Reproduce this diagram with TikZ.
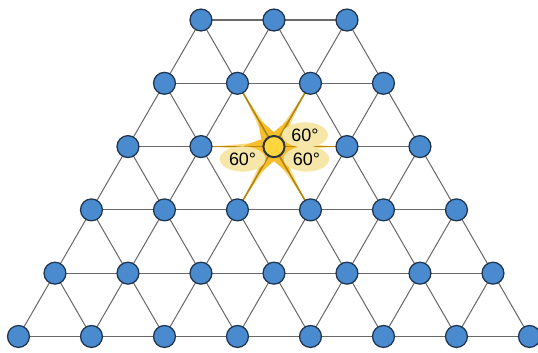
\documentclass[tikz,border=0pt]{standalone}
\usepackage{fontspec}
\setmainfont{Liberation Sans}
\usetikzlibrary{calc, shapes.geometric}
\definecolor{siteblue}{HTML}{4A8BD0}
\definecolor{siteline}{HTML}{1F3550}
\definecolor{bondgray}{HTML}{6A6A6A}
\definecolor{glowgold}{HTML}{F5BE2A}
\definecolor{raygold}{HTML}{B8860B}
\definecolor{centeryellow}{HTML}{FFD63D}
\definecolor{anglefill}{HTML}{F6E7A8}
\begin{document}
\begin{tikzpicture}[
    site/.style={circle, draw=siteline, line width=0.5pt, fill=siteblue, minimum size=0.3cm, inner sep=0pt},
    hub/.style={circle, draw=black!80, line width=0.5pt, fill=centeryellow, minimum size=0.28cm, inner sep=0pt},
    bond/.style={draw=bondgray, line width=0.4pt},
    ray/.style={draw=raygold, line width=0.6pt},
    anglelabel/.style={ellipse, fill=anglefill, inner sep=1pt, font=\fontsize{7}{8}\selectfont}
]
\useasboundingbox (0,0) rectangle (7.370,-4.822);

% lattice sites: row r has r+3 sites
\foreach \r in {0,...,5} {
  \pgfmathtruncatemacro{\last}{\r+2}
  \foreach \k in {0,...,\last} {
    \coordinate (p-\r-\k) at ({2.753-0.5*\r+\k}, {-(0.274+0.867*\r)});
  }
}

% glow around the centre site
\fill[glowgold, opacity=0.55]
  ($(p-2-2)+(0:0.85)$) -- ($(p-2-2)+(30:0.13)$) -- ($(p-2-2)+(60:0.85)$) -- ($(p-2-2)+(90:0.13)$)
  -- ($(p-2-2)+(120:0.85)$) -- ($(p-2-2)+(150:0.13)$) -- ($(p-2-2)+(180:0.85)$)
  -- ($(p-2-2)+(210:0.13)$) -- ($(p-2-2)+(240:0.85)$) -- ($(p-2-2)+(270:0.13)$)
  -- ($(p-2-2)+(300:0.85)$) -- ($(p-2-2)+(330:0.13)$) -- cycle;
\fill[glowgold]
  ($(p-2-2)+(0:0.45)$) -- ($(p-2-2)+(30:0.2)$) -- ($(p-2-2)+(60:0.45)$) -- ($(p-2-2)+(90:0.2)$)
  -- ($(p-2-2)+(120:0.45)$) -- ($(p-2-2)+(150:0.2)$) -- ($(p-2-2)+(180:0.45)$)
  -- ($(p-2-2)+(210:0.2)$) -- ($(p-2-2)+(240:0.45)$) -- ($(p-2-2)+(270:0.2)$)
  -- ($(p-2-2)+(300:0.45)$) -- ($(p-2-2)+(330:0.2)$) -- cycle;

% bonds
\foreach \r in {0,...,5} {
  \pgfmathtruncatemacro{\prev}{\r+2}
  \foreach \k in {1,...,\prev} {
    \pgfmathtruncatemacro{\j}{\k-1}
    \draw[bond] (p-\r-\j) -- (p-\r-\k);
  }
}
\foreach \r in {0,...,4} {
  \pgfmathtruncatemacro{\nxt}{\r+1}
  \pgfmathtruncatemacro{\last}{\r+2}
  \foreach \k in {0,...,\last} {
    \pgfmathtruncatemacro{\kk}{\k+1}
    \draw[bond] (p-\r-\k) -- (p-\nxt-\k);
    \draw[bond] (p-\r-\k) -- (p-\nxt-\kk);
  }
}

% highlighted bonds of the centre site
\foreach \a/\b in {1/1, 1/2, 2/1, 2/3, 3/2, 3/3}
  \draw[ray] (p-2-2) -- (p-\a-\b);

% sites
\foreach \r in {0,...,5} {
  \pgfmathtruncatemacro{\last}{\r+2}
  \foreach \k in {0,...,\last} {
    \node[site] (n-\r-\k) at (p-\r-\k) {};
  }
}
\node[hub] (mid) at (p-2-2) {};

% angle labels
\node[anglelabel] (a1) at ($(mid)+(0.425,0.16)$) {60°};
\node[anglelabel] (a2) at ($(mid)+(-0.43,-0.17)$) {60°};
\node[anglelabel] (a3) at ($(mid)+(0.445,-0.17)$) {60°};
\end{tikzpicture}
\end{document}
